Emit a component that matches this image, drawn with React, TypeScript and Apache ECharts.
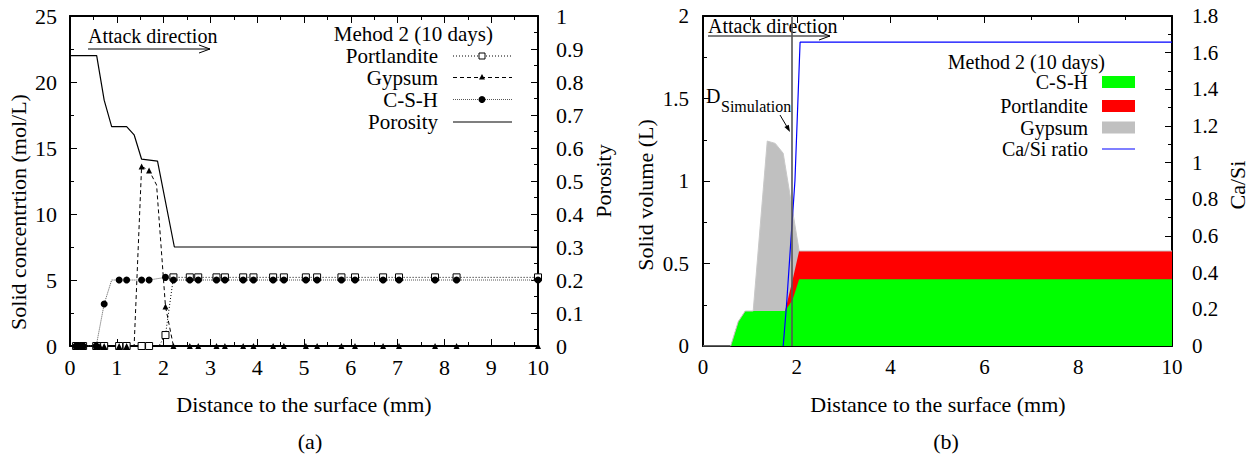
import React, { useEffect, useRef } from "react";
import * as echarts from "echarts";

// ---------- Panel (a): Method 2 (10 days), solid concentrations ----------
const aPortX = [0.13, 0.2, 0.28, 0.56, 0.64, 0.73, 1.05, 1.21, 1.53, 1.69, 1.9, 2.04, 2.21, 2.56, 2.74, 3.13, 3.31, 3.7, 3.92, 4.34, 4.57, 5.04, 5.28, 5.8, 6.09, 6.69, 7.03, 7.8, 8.26, 10];
const aPortY = [0, 0, 0, 0, 0, 0, 0, 0, 0, 0, 0, 0.83, 5.2, 5.2, 5.2, 5.2, 5.2, 5.2, 5.2, 5.2, 5.2, 5.2, 5.2, 5.2, 5.2, 5.2, 5.2, 5.2, 5.2, 5.2];
const aPortHidden = [1.9];

const aGypX = [0.13, 0.2, 0.28, 0.56, 0.64, 0.73, 1.05, 1.21, 1.37, 1.53, 1.69, 1.85, 2.04, 2.21, 2.56, 2.74, 3.13, 3.31, 3.7, 3.92, 4.34, 4.57, 5.04, 5.28, 5.8, 6.09, 6.69, 7.03, 7.8, 8.26, 10];
const aGypY = [0, 0, 0, 0, 0, 0, 0, 0, 0, 13.6, 13.3, 12.2, 3.0, 0, 0, 0, 0, 0, 0, 0, 0, 0, 0, 0, 0, 0, 0, 0, 0, 0, 0];
const aGypHidden = [1.37, 1.85];

const aCshX = [0.13, 0.2, 0.28, 0.56, 0.73, 0.89, 1.05, 1.21, 1.53, 1.69, 2.04, 2.21, 2.56, 2.74, 3.13, 3.31, 3.7, 3.92, 4.34, 4.57, 5.04, 5.28, 5.8, 6.09, 6.69, 7.03, 7.8, 8.26, 10];
const aCshY = [0, 0, 0, 0, 3.18, 5.0, 5.0, 5.0, 5.0, 5.0, 5.2, 5.0, 5.0, 5.0, 5.0, 5.0, 5.0, 5.0, 5.0, 5.0, 5.0, 5.0, 5.0, 5.0, 5.0, 5.0, 5.0, 5.0, 5.0];
const aCshHidden = [0.89];

const aPorX = [0, 0.57, 0.73, 0.89, 1.21, 1.37, 1.53, 1.87, 2.23, 10];
const aPorY = [0.88, 0.88, 0.745, 0.665, 0.665, 0.64, 0.566, 0.56, 0.3, 0.3];

// ---------- Panel (b): solid volumes (stacked) and Ca/Si ----------
const bX = [0, 0.59, 0.75, 0.9, 1.07, 1.37, 1.54, 1.71, 1.75, 1.91, 2.05, 10];
const bCsh = [0, 0, 0.147, 0.212, 0.212, 0.212, 0.212, 0.212, 0.212, 0.28, 0.404, 0.404];
const bPort = [0, 0, 0, 0, 0, 0, 0, 0, 0, 0.12, 0.172, 0.172];
const bGyp = [0, 0, 0, 0, 0, 1.03, 1.016, 0.956, 0.886, 0.42, 0, 0];
const bCaSiX = [1.71, 1.78, 1.96, 2.07, 10];
const bCaSiY = [0, 0.22, 0.9, 1.657, 1.657];
const bDSimulation = 1.89;

const legendA = ["Portlandite", "Gypsum", "C-S-H", "Porosity"];
const legendB = ["C-S-H", "Portlandite", "Gypsum", "Ca/Si ratio"];

const FONT = "'Liberation Serif', 'Times New Roman', 'DejaVu Serif', serif";

function pts(xs: number[], ys: number[], hidden: number[] = []) {
  return xs.map((x, i) =>
    hidden.includes(x) ? { value: [x, ys[i]], symbol: "none" } : [x, ys[i]]
  );
}
function pairs(xs: number[], ys: number[]) {
  return xs.map((x, i) => [x, ys[i]]);
}

const axLine = { show: true, onZero: false, lineStyle: { color: "#000", width: 2 } };
const axTick = { show: true, inside: true, length: 7, lineStyle: { color: "#000", width: 1 } };
const minor = { show: true, splitNumber: 2, length: 4, lineStyle: { color: "#000", width: 1 } };

function xAx(gridIndex: number, interval: number, position: string, showLabel: boolean, fontSize: number) {
  return {
    type: "value", gridIndex, min: 0, max: 10, interval, position,
    axisLine: axLine, axisTick: axTick, minorTick: minor,
    splitLine: { show: false }, minorSplitLine: { show: false },
    axisLabel: { show: showLabel, margin: 10, fontFamily: FONT, fontSize, color: "#000" },
  };
}
function yAx(gridIndex: number, max: number, interval: number, position: string, margin: number, fontSize: number) {
  return {
    type: "value", gridIndex, min: 0, max, interval, position,
    axisLine: axLine, axisTick: axTick, minorTick: minor,
    splitLine: { show: false }, minorSplitLine: { show: false },
    axisLabel: { margin, fontFamily: FONT, fontSize, color: "#000" },
  };
}

function txt(x: number, y: number, text: string, size: number, align = "left", rotation = 0) {
  return {
    type: "text", x, y, rotation, silent: true,
    style: { text, font: `${size}px ${FONT}`, fill: "#000", align, verticalAlign: "middle" },
  };
}
function seg(x1: number, y1: number, x2: number, y2: number, stroke = "#000", lineWidth = 1, lineDash: any = null) {
  return { type: "line", silent: true, shape: { x1, y1, x2, y2 }, style: { stroke, lineWidth, lineDash } };
}

export default function App() {
  const ref = useRef<HTMLDivElement>(null);
  useEffect(() => {
    const chart = echarts.init(ref.current!, null, { renderer: "svg" });
    const legA_Y = [56, 77.5, 99.5, 122];
    const legB_Y = [82, 106, 127.5, 149];
    // cumulative tops for the stacked volumes (C-S-H, then Portlandite, then Gypsum)
    const topPort = bCsh.map((v, i) => v + bPort[i]);
    const topGyp = topPort.map((v, i) => v + bGyp[i]);
    const option: any = {
      animation: false,
      backgroundColor: "#fff",
      grid: [
        { left: 70, top: 16, width: 468, height: 330 },
        { left: 703, top: 16, width: 469, height: 330 },
      ],
      xAxis: [
        xAx(0, 1, "bottom", true, 22),
        xAx(0, 1, "top", false, 22),
        xAx(1, 2, "bottom", true, 21),
        xAx(1, 2, "top", false, 21),
      ],
      yAxis: [
        yAx(0, 25, 5, "left", 13, 22),
        yAx(0, 1, 0.1, "right", 18, 22),
        yAx(1, 2, 0.5, "left", 14, 21),
        yAx(1, 1.8, 0.2, "right", 20, 21),
      ],
      series: [
        {
          name: "Portlandite", type: "line", xAxisIndex: 0, yAxisIndex: 0,
          data: pts(aPortX, aPortY, aPortHidden), showAllSymbol: true,
          symbol: "rect", symbolSize: 7,
          itemStyle: { color: "#fff", borderColor: "#000", borderWidth: 1 },
          lineStyle: { color: "#000", width: 1, type: [1, 2] },
        },
        {
          name: "Gypsum", type: "line", xAxisIndex: 0, yAxisIndex: 0,
          data: pts(aGypX, aGypY, aGypHidden), showAllSymbol: true,
          symbol: "triangle", symbolSize: 6,
          itemStyle: { color: "#000" },
          lineStyle: { color: "#000", width: 1, type: [4, 3] },
        },
        {
          name: "C-S-H", type: "line", xAxisIndex: 0, yAxisIndex: 0,
          data: pts(aCshX, aCshY, aCshHidden), showAllSymbol: true,
          symbol: "circle", symbolSize: 7,
          itemStyle: { color: "#000" },
          lineStyle: { color: "#555", width: 1, type: [1, 1] },
        },
        {
          name: "Porosity", type: "line", xAxisIndex: 0, yAxisIndex: 1,
          data: pairs(aPorX, aPorY), symbol: "none",
          lineStyle: { color: "#000", width: 1.2 },
        },
        {
          name: "Gypsum (b)", type: "line", xAxisIndex: 2, yAxisIndex: 2,
          data: pairs(bX, topGyp), symbol: "none",
          lineStyle: { width: 1, color: "#c8c8c8" }, areaStyle: { color: "#c0c0c0", opacity: 1 },
        },
        {
          name: "Portlandite (b)", type: "line", xAxisIndex: 2, yAxisIndex: 2,
          data: pairs(bX, topPort), symbol: "none",
          lineStyle: { width: 0 }, areaStyle: { color: "#ff0000", opacity: 1 },
        },
        {
          name: "C-S-H (b)", type: "line", xAxisIndex: 2, yAxisIndex: 2,
          data: pairs(bX, bCsh), symbol: "none",
          lineStyle: { width: 0 }, areaStyle: { color: "#00ff00", opacity: 1 },
        },
        {
          name: "Ca/Si ratio", type: "line", xAxisIndex: 2, yAxisIndex: 3,
          data: pairs(bCaSiX, bCaSiY), symbol: "none",
          lineStyle: { color: "#0000ff", width: 1.2 },
          markLine: {
            silent: true, symbol: ["none", "none"], label: { show: false },
            lineStyle: { color: "#555", width: 1.6, type: "solid" },
            data: [{ xAxis: bDSimulation }],
          },
        },
      ],
      graphic: [
        // panel (a) annotations
        txt(88, 36, "Attack direction", 20),
        seg(88, 49, 210, 49),
        { type: "polyline", silent: true, shape: { points: [[199, 45], [210, 49], [199, 53]] }, style: { stroke: "#000", fill: null, lineWidth: 1 } },
        txt(493, 34, "Mehod 2 (10 days)", 21, "right"),
        txt(438, legA_Y[0], legendA[0], 21, "right"),
        txt(438, legA_Y[1], legendA[1], 21, "right"),
        txt(438, legA_Y[2], legendA[2], 21, "right"),
        txt(438, legA_Y[3], legendA[3], 21, "right"),
        seg(453, legA_Y[0], 512, legA_Y[0], "#000", 1, [1, 2]),
        { type: "rect", silent: true, shape: { x: 479, y: legA_Y[0] - 3, width: 6, height: 6 }, style: { fill: "#fff", stroke: "#000", lineWidth: 1 } },
        seg(453, legA_Y[1], 512, legA_Y[1], "#000", 1, [4, 3]),
        { type: "polygon", silent: true, shape: { points: [[482, legA_Y[1] - 3.5], [479, legA_Y[1] + 2], [485, legA_Y[1] + 2]] }, style: { fill: "#000" } },
        seg(453, legA_Y[2], 512, legA_Y[2], "#555", 1, [1, 1]),
        { type: "circle", silent: true, shape: { cx: 482, cy: legA_Y[2], r: 3.5 }, style: { fill: "#000" } },
        seg(453, legA_Y[3], 512, legA_Y[3], "#000", 1.2),
        // axis titles and captions (a)
        txt(18, 212, "Solid concentrtion (mol/L)", 22, "center", Math.PI / 2),
        txt(603, 181, "Porosity", 22, "center", Math.PI / 2),
        txt(304, 404, "Distance to the surface (mm)", 22, "center"),
        txt(310, 441, "(a)", 22, "center"),
        // panel (b) annotations
        txt(708, 26, "Attack direction", 20),
        seg(708, 36, 830, 36),
        { type: "polyline", silent: true, shape: { points: [[819, 32], [830, 36], [819, 40]] }, style: { stroke: "#000", fill: null, lineWidth: 1 } },
        txt(706, 96, "D", 20),
        txt(721, 106, "Simulation", 16),
        seg(780, 115, 788, 128.5),
        { type: "polygon", silent: true, shape: { points: [[790, 132], [784.4, 127.1], [788.8, 124.7]] }, style: { fill: "#000" } },
        txt(1105, 62, "Method 2 (10 days)", 20, "right"),
        txt(1088, legB_Y[0], legendB[0], 20, "right"),
        txt(1088, legB_Y[1], legendB[1], 20, "right"),
        txt(1088, legB_Y[2], legendB[2], 20, "right"),
        txt(1088, legB_Y[3], legendB[3], 20, "right"),
        { type: "rect", silent: true, shape: { x: 1102, y: legB_Y[0] - 6, width: 33, height: 12 }, style: { fill: "#00ff00" } },
        { type: "rect", silent: true, shape: { x: 1102, y: legB_Y[1] - 6, width: 33, height: 12 }, style: { fill: "#ff0000" } },
        { type: "rect", silent: true, shape: { x: 1102, y: legB_Y[2] - 6, width: 33, height: 12 }, style: { fill: "#c0c0c0" } },
        seg(1102, legB_Y[3], 1135, legB_Y[3], "#0000ff", 1.2),
        // axis titles and captions (b)
        txt(645, 195, "Solid volume (L)", 22, "center", Math.PI / 2),
        txt(1237, 185, "Ca/Si", 22, "center", Math.PI / 2),
        txt(938, 404, "Distance to the surface (mm)", 22, "center"),
        txt(946, 441, "(b)", 22, "center"),
      ],
    };
    chart.setOption(option);
    return () => chart.dispose();
  }, []);
  return (
    <div
      ref={ref}
      style={{ position: "fixed", left: 0, top: 0, width: 1256, height: 461, background: "#fff" }}
    />
  );
}
